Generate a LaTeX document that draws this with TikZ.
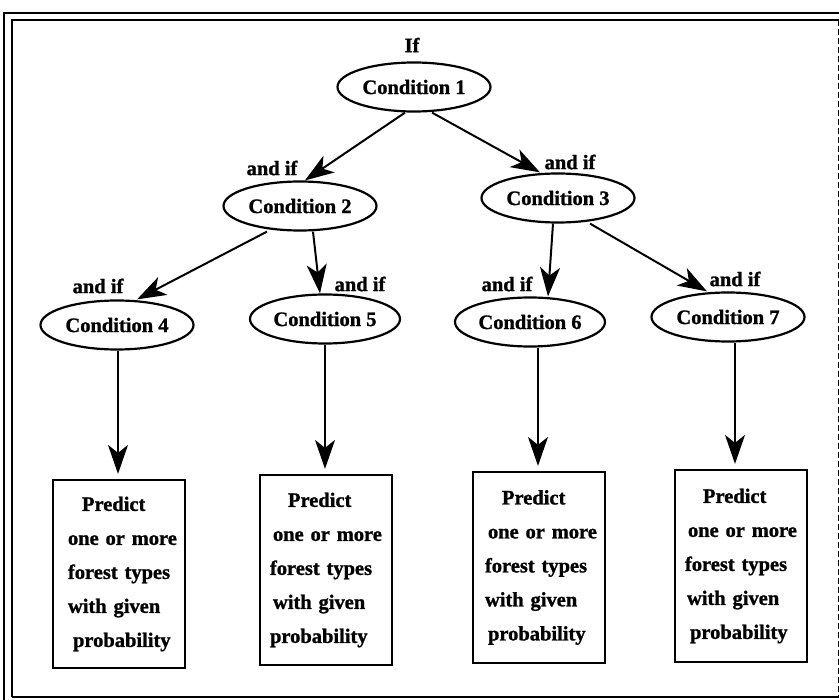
\documentclass[tikz,border=0pt]{standalone}
\usepackage{fontspec}
\setmainfont{Liberation Serif}[BoldFeatures={FakeBold=1.2}]
\usetikzlibrary{shapes.geometric,arrows.meta}
\begin{document}
\begin{tikzpicture}[x=1pt,y=-1pt,
  every node/.style={font=\fontsize{20.5}{34}\selectfont\bfseries},
  cond/.style={draw, ellipse, line width=2.2pt, minimum width=153pt,
    minimum height=49pt, inner sep=0pt},
  outcome/.style={draw, rectangle, line width=2.2pt, text width=132pt,
    inner xsep=0pt, inner ysep=0pt, align=left},
  lbl/.style={inner sep=0pt},
  tip/.style={-{Stealth[length=29pt,width=20pt,inset=8pt]}},
  link/.style={tip, line width=2pt},
  drop/.style={tip, line width=1.5pt, shorten >=5pt},
  frame/.style={line width=2.6pt}
]
\useasboundingbox (0,0) rectangle (839,700);

% double border around the figure
\draw[frame] (4,702) -- (4,13) -- (842,13);
\draw[line width=2pt] (12,697) -- (12,20) -- (842,20);
\draw[line width=2.2pt] (12,697) -- (842,697);
\draw[line width=0.8pt, dash pattern=on 6pt off 3pt] (838,20) -- (838,697);

% condition tree
\node[lbl] (if) at (412,45) {If};
\node[cond] (c1) at (414,87) {Condition 1};
\node[cond] (c2) at (300,206) {Condition 2};
\node[cond] (c3) at (558,198) {Condition 3};
\node[cond] (c4) at (117,325) {Condition 4};
\node[cond, minimum width=150pt] (c5) at (325,319) {Condition 5};
\node[cond, minimum width=150pt] (c6) at (530,322) {Condition 6};
\node[cond] (c7) at (728,317) {Condition 7};

\node[lbl] (a2) at (272,168) {and if};
\node[lbl] (a3) at (570,162) {and if};
\node[lbl] (a4) at (98,286) {and if};
\node[lbl] (a5) at (360,284) {and if};
\node[lbl] (a6) at (507,284) {and if};
\node[lbl] (a7) at (735,279) {and if};

% predictions at the leaves
\node[outcome, minimum height=188pt] (b1) at (119,574)
  {\hspace*{29pt}Predict\\\hspace*{15pt}one or more\\\hspace*{15pt}forest types\\\hspace*{15pt}with given\\\hspace*{20pt}probability};
\node[outcome, minimum height=190pt] (b2) at (326,570)
  {\hspace*{28pt}Predict\\\hspace*{13pt}one or more\\\hspace*{10pt}forest types\\\hspace*{13pt}with given\\\hspace*{10pt}probability};
\node[outcome, minimum height=191pt] (b3) at (539,567.5)
  {\hspace*{29pt}Predict\\\hspace*{15pt}one or more\\\hspace*{12pt}forest types\\\hspace*{12pt}with given\\\hspace*{15pt}probability};
\node[outcome, minimum height=192pt] (b4) at (741,566)
  {\hspace*{28pt}Predict\\\hspace*{13pt}one or more\\\hspace*{10pt}forest types\\\hspace*{12pt}with given\\\hspace*{15pt}probability};

% branches
\draw[link] ([xshift=-9pt]c1.south) -- ([xshift=5pt]c2.north);
\draw[link] ([xshift=18pt]c1.south) -- ([xshift=-18pt]c3.north);
\draw[link] ([xshift=-33pt]c2.south) -- ([xshift=20pt]c4.north);
\draw[link] ([xshift=13pt]c2.south) -- ([xshift=-5pt]c5.north);
\draw[link] ([xshift=-5pt]c3.south) -- ([xshift=18pt]c6.north);
\draw[link] ([xshift=32pt]c3.south) -- ([xshift=-21pt]c7.north);

\draw[drop] ([xshift=1pt]c4.south) -- ([xshift=-1pt]b1.north);
\draw[drop] (c5.south) -- ([xshift=-1pt]b2.north);
\draw[drop] ([xshift=8pt]c6.south) -- ([xshift=-1pt]b3.north);
\draw[drop] ([xshift=7pt]c7.south) -- ([xshift=-6pt]b4.north);
\end{tikzpicture}
\end{document}
